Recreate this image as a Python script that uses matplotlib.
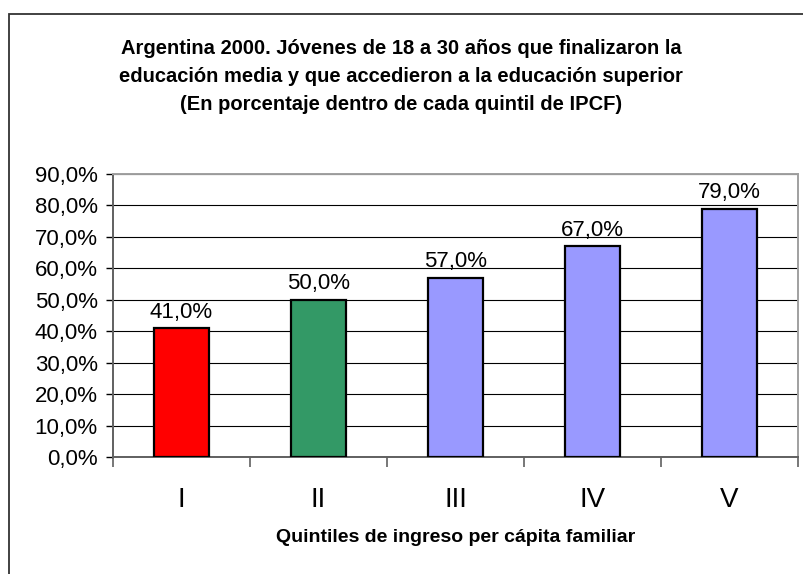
import matplotlib.pyplot as plt
from matplotlib.patches import Rectangle

plt.rcParams['font.family'] = ['Liberation Sans', 'DejaVu Sans']

# data
quintiles = ["I", "II", "III", "IV", "V"]
values = [0.41, 0.50, 0.57, 0.67, 0.79]
colors = ["#FF0000", "#339966", "#9999FF", "#9999FF", "#9999FF"]
yticks = [0.0, 0.1, 0.2, 0.3, 0.4, 0.5, 0.6, 0.7, 0.8, 0.9]

title = ("Argentina 2000. Jóvenes de 18 a 30 años que finalizaron la\n"
         "educación media y que accedieron a la educación superior\n"
         "(En porcentaje dentro de cada quintil de IPCF)")
xlabel = "Quintiles de ingreso per cápita familiar"


def pct(v):
    return ("%.1f%%" % (v * 100)).replace(".", ",")


fig = plt.figure(figsize=(8.04, 5.74), dpi=100)
ax = fig.add_axes([113 / 804, 117 / 574, 685 / 804, 283 / 574])

x = range(len(quintiles))
ax.bar(x, values, width=0.4, color=colors, edgecolor="black", linewidth=1.6, zorder=3)

for xi, v in zip(x, values):
    ax.annotate(pct(v), (xi, v), xytext=(0, 4), textcoords="offset points",
                ha="center", va="bottom", fontsize=16)

ax.set_xlim(-0.5, len(quintiles) - 0.5)
ax.set_ylim(0, 0.9)
ax.set_yticks(yticks)
ax.set_yticklabels([pct(t) for t in yticks], fontsize=16)
ax.yaxis.grid(True, color="black", linewidth=0.8, zorder=0)
ax.set_axisbelow(True)

# category labels between boundary ticks
ax.set_xticks([i - 0.5 for i in range(len(quintiles) + 1)])
ax.set_xticklabels([])
ax.set_xticks(list(x), minor=True)
ax.set_xticklabels(quintiles, minor=True, fontsize=20)
ax.tick_params(axis="x", which="major", direction="out", length=7, width=1.2, color="#606060")
ax.tick_params(axis="x", which="minor", length=0, pad=21.5)
ax.tick_params(axis="y", direction="out", length=5, width=1.0, pad=6)

for s in ["left", "bottom"]:
    ax.spines[s].set_color("#606060")
    ax.spines[s].set_linewidth(1.4)
for s in ["top", "right"]:
    ax.spines[s].set_color("#a0a0a0")
    ax.spines[s].set_linewidth(1.4)

fig.text(0.4988, (574 - 76) / 574, title, ha="center", va="center",
         fontsize=14.5, fontweight="bold", linespacing=1.6)
fig.text(455.5 / 804, (574 - 537) / 574, xlabel, ha="center", va="center",
         fontsize=14, fontweight="bold")

# outer chart frame (cut at right and bottom)
fig.patches.append(Rectangle((9 / 804, -0.1), 1.2, (574 - 14) / 574 + 0.1,
                             transform=fig.transFigure, fill=False,
                             edgecolor="#333333", linewidth=1.3))

fig.savefig("out.png", dpi=100)
